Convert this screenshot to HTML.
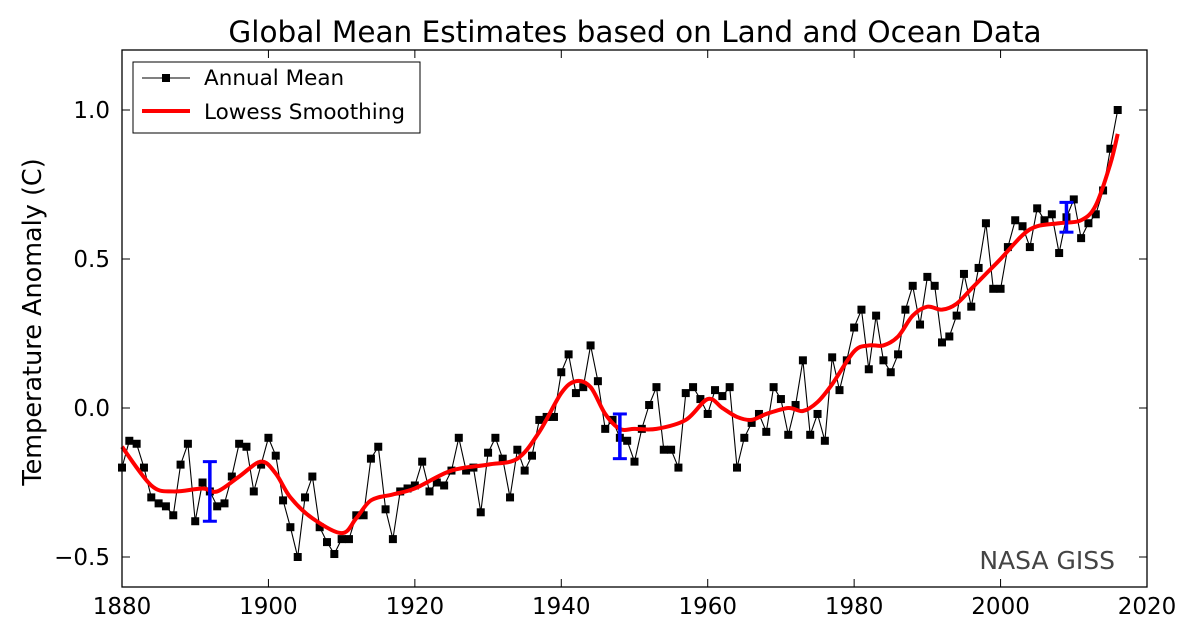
<!DOCTYPE html>
<html><head><meta charset="utf-8"><style>
html,body{margin:0;padding:0;background:#fff;}
svg{display:block;font-family:"DejaVu Sans","Liberation Sans",sans-serif;}
</style></head><body>
<svg id="s" width="1200" height="637" viewBox="0 0 1200 637" xmlns="http://www.w3.org/2000/svg">
<rect width="1200" height="637" fill="#fff"/>
<text x="635" y="42" font-size="29.5" text-anchor="middle">Global Mean Estimates based on Land and Ocean Data</text>
<text transform="translate(41,322) rotate(-90)" font-size="25.5" text-anchor="middle">Temperature Anomaly (C)</text>
<g id="plot"></g>
<rect x="122" y="50" width="1025" height="537" fill="none" stroke="#000" stroke-width="1.3"/>
<text x="1115" y="569" font-size="25" fill="#444" text-anchor="end">NASA GISS</text>
<rect x="133" y="62" width="287" height="71" fill="#fff" stroke="#000" stroke-width="1"/>
<line x1="142" y1="78" x2="190" y2="78" stroke="#000" stroke-width="1"/>
<rect x="162" y="74" width="8" height="8" fill="#000"/>
<text x="204" y="85" font-size="21.5">Annual Mean</text>
<line x1="142" y1="111" x2="190" y2="111" stroke="red" stroke-width="4"/>
<text x="204" y="119" font-size="21.5">Lowess Smoothing</text>
</svg>
<script>
var d=[-0.20,-0.11,-0.12,-0.20,-0.30,-0.32,-0.33,-0.36,-0.19,-0.12,-0.38,-0.25,-0.28,-0.33,-0.32,-0.23,-0.12,-0.13,-0.28,-0.19,-0.10,-0.16,-0.31,-0.40,-0.50,-0.30,-0.23,-0.40,-0.45,-0.49,-0.44,-0.44,-0.36,-0.36,-0.17,-0.13,-0.34,-0.44,-0.28,-0.27,-0.26,-0.18,-0.28,-0.25,-0.26,-0.21,-0.10,-0.21,-0.20,-0.35,-0.15,-0.10,-0.17,-0.30,-0.14,-0.21,-0.16,-0.04,-0.03,-0.03,0.12,0.18,0.05,0.07,0.21,0.09,-0.07,-0.04,-0.10,-0.11,-0.18,-0.07,0.01,0.07,-0.14,-0.14,-0.20,0.05,0.07,0.03,-0.02,0.06,0.04,0.07,-0.20,-0.10,-0.05,-0.02,-0.08,0.07,0.03,-0.09,0.01,0.16,-0.09,-0.02,-0.11,0.17,0.06,0.16,0.27,0.33,0.13,0.31,0.16,0.12,0.18,0.33,0.41,0.28,0.44,0.41,0.22,0.24,0.31,0.45,0.34,0.47,0.62,0.40,0.40,0.54,0.63,0.61,0.54,0.67,0.63,0.65,0.52,0.64,0.70,0.57,0.62,0.65,0.73,0.87,1.00];
var sm=[[1880,-0.13],[1884,-0.26],[1887,-0.28],[1891,-0.27],[1893,-0.28],[1896,-0.23],[1899,-0.18],[1901,-0.22],[1903,-0.30],[1906,-0.37],[1910,-0.42],[1912,-0.37],[1914,-0.31],[1917,-0.29],[1920,-0.27],[1925,-0.21],[1930,-0.19],[1934,-0.17],[1937,-0.08],[1940,0.05],[1942,0.09],[1944,0.07],[1946,-0.02],[1948,-0.07],[1950,-0.07],[1953,-0.07],[1957,-0.04],[1960,0.03],[1962,0.00],[1964,-0.03],[1966,-0.04],[1968,-0.02],[1971,0.00],[1973,-0.01],[1975,0.02],[1977,0.08],[1980,0.19],[1982,0.21],[1984,0.21],[1986,0.24],[1988,0.31],[1990,0.34],[1992,0.33],[1994,0.35],[1996,0.40],[1998,0.45],[2000,0.50],[2003,0.58],[2005,0.61],[2008,0.62],[2011,0.63],[2013,0.68],[2015,0.82],[2016,0.92]];
function X(y){return 122+(y-1880)*1025/140;}
function Y(v){return 408-v*298;}
var h='';
[1880,1900,1920,1940,1960,1980,2000,2020].forEach(function(t){var x=X(t);
h+='<line x1="'+x+'" y1="587" x2="'+x+'" y2="579" stroke="#000"/><line x1="'+x+'" y1="50" x2="'+x+'" y2="58" stroke="#000"/>';
h+='<text x="'+x+'" y="614" font-size="23" text-anchor="middle">'+t+'</text>';});
[[-0.5,'\u22120.5'],[0,'0.0'],[0.5,'0.5'],[1.0,'1.0']].forEach(function(a){var y=Y(a[0]);
h+='<line x1="122" y1="'+y+'" x2="130" y2="'+y+'" stroke="#000"/><line x1="1147" y1="'+y+'" x2="1139" y2="'+y+'" stroke="#000"/>';
h+='<text x="110" y="'+(y+8)+'" font-size="23" text-anchor="end">'+a[1]+'</text>';});
var p=d.map(function(v,i){return X(1880+i).toFixed(1)+','+Y(v).toFixed(1);}).join(' ');
h+='<polyline points="'+p+'" fill="none" stroke="#000" stroke-width="1.1"/>';
d.forEach(function(v,i){h+='<rect x="'+(X(1880+i)-4)+'" y="'+(Y(v)-4)+'" width="8" height="8" fill="#000"/>';});
var pts=sm.map(function(a){return [X(a[0]),Y(a[1])];});
var s='M'+pts[0][0]+','+pts[0][1];
for(var i=0;i<pts.length-1;i++){var p0=pts[Math.max(i-1,0)],p1=pts[i],p2=pts[i+1],p3=pts[Math.min(i+2,pts.length-1)];
s+=' C'+(p1[0]+(p2[0]-p0[0])/6)+','+(p1[1]+(p2[1]-p0[1])/6)+' '+(p2[0]-(p3[0]-p1[0])/6)+','+(p2[1]-(p3[1]-p1[1])/6)+' '+p2[0]+','+p2[1];}
h+='<path d="'+s+'" fill="none" stroke="red" stroke-width="4"/>';
[[1892,-0.38,-0.18],[1948,-0.17,-0.02],[2009,0.59,0.69]].forEach(function(e){var x=X(e[0]),a=Y(e[1]),b=Y(e[2]);
h+='<line x1="'+x+'" y1="'+a+'" x2="'+x+'" y2="'+b+'" stroke="blue" stroke-width="3.5"/>';
h+='<line x1="'+(x-7)+'" y1="'+a+'" x2="'+(x+7)+'" y2="'+a+'" stroke="blue" stroke-width="3"/>';
h+='<line x1="'+(x-7)+'" y1="'+b+'" x2="'+(x+7)+'" y2="'+b+'" stroke="blue" stroke-width="3"/>';});
document.getElementById('plot').innerHTML=h;
</script>
</body></html>
